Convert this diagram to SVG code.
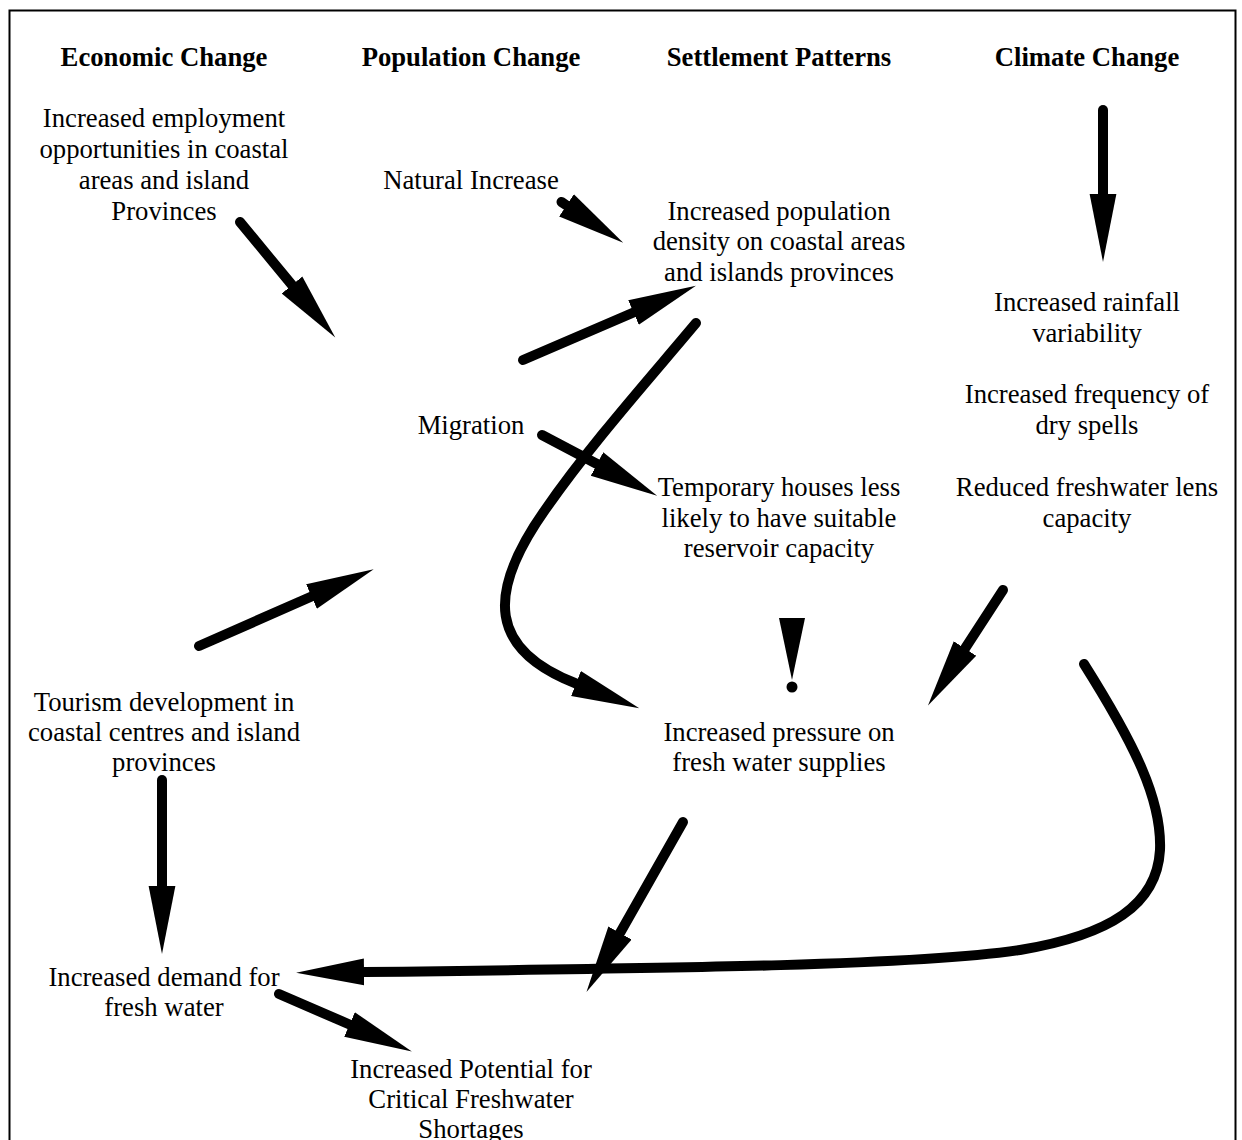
<svg xmlns="http://www.w3.org/2000/svg" width="1242" height="1140" viewBox="0 0 1242 1140">
<defs>
<style>
text{font-family:"Liberation Serif","Times New Roman",serif;font-size:26.7px;fill:#000;text-anchor:middle}
.h{font-weight:bold}
.c{fill:none;stroke:#000;stroke-width:10;stroke-linecap:round;marker-end:url(#ah)}
</style>
<marker id="ah" markerUnits="userSpaceOnUse" markerWidth="70" markerHeight="30" viewBox="0 -14 68 28" refX="0" refY="0" orient="auto">
<path d="M0,-13 L66,0 L0,13 z" fill="#000"/>
</marker>
</defs>
<rect width="1242" height="1140" fill="#fff"/>
<rect x="9.5" y="10.5" width="1226" height="1200" fill="none" stroke="#000" stroke-width="2"/>

<g id="h-economic"><text class="h" x="164" y="66">Economic Change</text></g>
<g id="h-population"><text class="h" x="471" y="66">Population Change</text></g>
<g id="h-settlement"><text class="h" x="779" y="66">Settlement Patterns</text></g>
<g id="h-climate"><text class="h" x="1087" y="66">Climate Change</text></g>

<g id="n-employment"><text x="164" y="127">Increased employment</text><text x="164" y="158">opportunities in coastal</text><text x="164" y="189">areas and island</text><text x="164" y="220">Provinces</text></g>
<g id="n-natural"><text x="471" y="189">Natural Increase</text></g>
<g id="n-density"><text x="779" y="220">Increased population</text><text x="779" y="250">density on coastal areas</text><text x="779" y="281">and islands provinces</text></g>
<g id="n-rainfall"><text x="1087" y="311">Increased rainfall</text><text x="1087" y="342">variability</text></g>
<g id="n-dry"><text x="1087" y="403">Increased frequency of</text><text x="1087" y="434">dry spells</text></g>
<g id="n-migration"><text x="471" y="434">Migration</text></g>
<g id="n-lens"><text x="1087" y="496">Reduced freshwater lens</text><text x="1087" y="527">capacity</text></g>
<g id="n-temporary"><text x="779" y="496">Temporary houses less</text><text x="779" y="527">likely to have suitable</text><text x="779" y="557">reservoir capacity</text></g>
<g id="n-tourism"><text x="164" y="711">Tourism development in</text><text x="164" y="741">coastal centres and island</text><text x="164" y="771">provinces</text></g>
<g id="n-pressure"><text x="779" y="741">Increased pressure on</text><text x="779" y="771">fresh water supplies</text></g>
<g id="n-demand"><text x="164" y="986">Increased demand for</text><text x="164" y="1016">fresh water</text></g>
<g id="n-potential"><text x="471" y="1078">Increased Potential for</text><text x="471" y="1108">Critical Freshwater</text><text x="471" y="1138">Shortages</text></g>

<g id="connectors">
<path class="c" d="M240,222 L292,285"/>
<path class="c" d="M561.5,202 L566.5,205.3"/>
<path class="c" d="M523,360 L633.5,312.5"/>
<path class="c" d="M199,646 L311.5,596.5"/>
<path class="c" d="M542,435 L597,464"/>
<path class="c" d="M696,323 C650,378 590,445 545,510 C485,595 490,650 576,683.5"/>
<polygon points="779,618 805,618 792,680" fill="#000"/>
<circle cx="792" cy="687" r="5.5" fill="#000"/>
<path class="c" d="M1103,110 L1103,194"/>
<path class="c" d="M1003,590 L965,648.5"/>
<path class="c" d="M683,822 L620,933"/>
<path class="c" d="M1084,664 C1135,745 1162,800 1160,850 C1157,905 1110,935 1020,950 C920,965 700,968 364,972"/>
<path class="c" d="M162,780 L162,886"/>
<path class="c" d="M279,994 L349.5,1024.5"/>
</g>
</svg>
